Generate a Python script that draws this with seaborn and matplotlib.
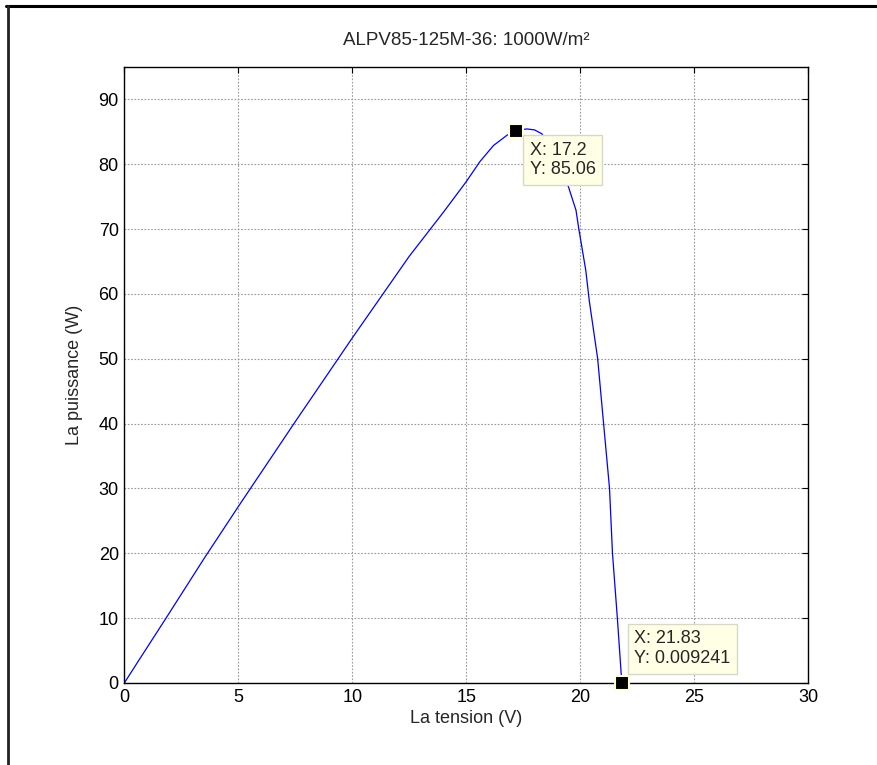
import matplotlib
matplotlib.use("Agg")
import matplotlib.pyplot as plt
import seaborn as sns
import pandas as pd
from matplotlib.lines import Line2D

# ---- data ----
voltage = [0.0, 0.6, 1.83, 3.5, 5.0, 7.5, 10.0, 12.5, 14.0, 15.0, 15.6, 16.2,
           16.8, 17.2, 17.45, 17.67, 18.0, 18.32, 18.7, 19.0, 19.49, 19.82, 19.93,
           20.25, 20.4, 20.77, 21.03, 21.29, 21.42, 21.64, 21.83]
power = [0.0, 3.3, 10.0, 19.2, 27.2, 40.3, 53.2, 65.8, 72.6, 77.3, 80.4, 82.9,
         84.5, 85.06, 85.35, 85.45, 85.3, 84.7, 82.8, 80.6, 76.5, 72.9, 70.3,
         63.6, 59.0, 50.0, 40.0, 30.0, 20.0, 9.7, 0.009241]
tip_x = [17.2, 21.83]
tip_y = [85.06, 0.009241]
tip_labels = ["X: 17.2\nY: 85.06", "X: 21.83\nY: 0.009241"]
x_ticks = [0, 5, 10, 15, 20, 25, 30]
y_ticks = [0, 10, 20, 30, 40, 50, 60, 70, 80, 90]

sns.set_style("white")
plt.rcParams['font.family'] = ['Liberation Sans', 'DejaVu Sans']

fig = plt.figure(figsize=(8.78, 7.65), dpi=100)
ax = fig.add_axes([0.1416, 0.1072, 0.9203 - 0.1416, 0.9124 - 0.1072])

df = pd.DataFrame({"V": voltage, "P": power})
sns.lineplot(data=df, x="V", y="P", sort=False, color="#0000ff", linewidth=0.9, ax=ax)

tips = pd.DataFrame({"V": tip_x, "P": tip_y})
sns.scatterplot(data=tips, x="V", y="P", marker="s", s=110, color="black",
                edgecolor="#ffffe0", linewidth=1.5, ax=ax, zorder=5, clip_on=False)

ax.set_xlim(0, 30)
ax.set_ylim(0, 95)
ax.set_xticks(x_ticks)
ax.set_yticks(y_ticks)
ax.grid(True, color="#9a9a9a", linestyle=(0, (1.5, 1.5)), linewidth=0.8)
ax.tick_params(direction="in", top=True, right=True, length=4, width=0.8,
               labelsize=13, colors="black", pad=4)
for s in ax.spines.values():
    s.set_color("black")
    s.set_linewidth(1.0)

ax.set_title("ALPV85-125M-36: 1000W/m²", fontsize=13.5, pad=16)
ax.set_xlabel("La tension (V)", fontsize=13, labelpad=3)
ax.set_ylabel("La puissance (W)", fontsize=13, labelpad=11)

# data tip boxes (text anchor offsets from the tip, in data units)
offsets = [(0.58, -1.6), (0.55, 8.1)]
for (tx, ty), lab, (dx, dy) in zip(zip(tip_x, tip_y), tip_labels, offsets):
    ax.text(tx + dx, ty + dy, lab, fontsize=13, va="top", ha="left",
            linespacing=1.2, zorder=6,
            bbox=dict(boxstyle="square,pad=0.38", facecolor="#ffffe6",
                      edgecolor="#d8d8c8", linewidth=1.0))

# outer frame (top and left edges visible in the reference)
fig.add_artist(Line2D([0.007, 1.0], [0.992, 0.992], transform=fig.transFigure,
                      color="black", linewidth=2.2))
fig.add_artist(Line2D([0.009, 0.009], [0.0, 0.992], transform=fig.transFigure,
                      color="#222222", linewidth=2.0))

fig.savefig("out.png", dpi=100)
